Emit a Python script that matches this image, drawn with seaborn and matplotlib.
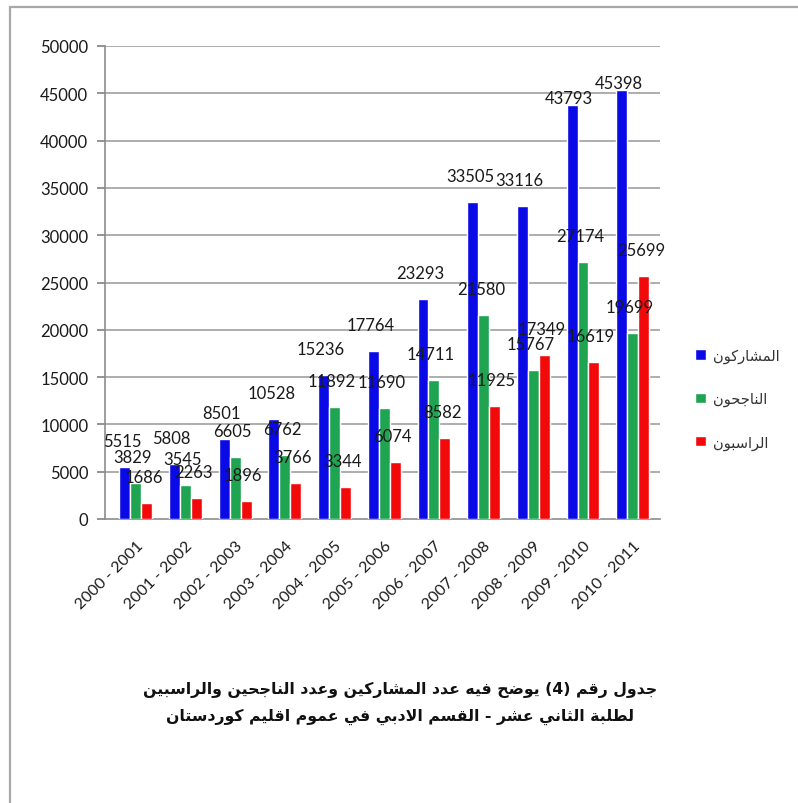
import re
import numpy as np
import pandas as pd
import matplotlib
matplotlib.use("Agg")
import matplotlib.pyplot as plt
from matplotlib.lines import Line2D
import seaborn as sns

# ---------------- data ----------------
years = ["2000 - 2001", "2001 - 2002", "2002 - 2003", "2003 - 2004", "2004 - 2005",
         "2005 - 2006", "2006 - 2007", "2007 - 2008", "2008 - 2009", "2009 - 2010",
         "2010 - 2011"]
participants = [5515, 5808, 8501, 10528, 15236, 17764, 23293, 33505, 33116, 43793, 45398]
passed = [3829, 3545, 6605, 6762, 11892, 11690, 14711, 21580, 15767, 27174, 19699]
failed = [1686, 2263, 1896, 3766, 3344, 6074, 8582, 11925, 17349, 16619, 25699]
series_names = ["المشاركون", "الناجحون", "الراسبون"]
title_lines = ["جدول رقم (4) يوضح فيه عدد المشاركين وعدد الناجحين والراسبين",
               "لطلبة الثاني عشر - القسم الادبي في عموم اقليم كوردستان"]
y_ticks = [0, 5000, 10000, 15000, 20000, 25000, 30000, 35000, 40000, 45000, 50000]

# ---------------- simple Arabic shaping (presentation forms + RTL order) ----------------
DUAL = {'ب': 0xFE8F, 'ت': 0xFE95, 'ث': 0xFE99, 'ج': 0xFE9D, 'ح': 0xFEA1, 'خ': 0xFEA5,
        'س': 0xFEB1, 'ش': 0xFEB5, 'ص': 0xFEB9, 'ض': 0xFEBD, 'ط': 0xFEC1, 'ظ': 0xFEC5,
        'ع': 0xFEC9, 'غ': 0xFECD, 'ف': 0xFED1, 'ق': 0xFED5, 'ك': 0xFED9, 'ل': 0xFEDD,
        'م': 0xFEE1, 'ن': 0xFEE5, 'ه': 0xFEE9, 'ي': 0xFEF1}
RIGHT = {'ا': 0xFE8D, 'ة': 0xFE93, 'د': 0xFEA9, 'ذ': 0xFEAB, 'ر': 0xFEAD, 'ز': 0xFEAF,
         'و': 0xFEED, 'ى': 0xFEEF}


def shape(text):
    toks = []
    i = 0
    while i < len(text):
        if text[i] == 'ل' and i + 1 < len(text) and text[i + 1] == 'ا':
            toks.append('LA')
            i += 2
        else:
            toks.append(text[i])
            i += 1

    def is_ar(t):
        return t in DUAL or t in RIGHT or t == 'LA'

    res = []
    for k, t in enumerate(toks):
        if not is_ar(t):
            res.append(t)
            continue
        prev = toks[k - 1] if k > 0 else None
        nxt = toks[k + 1] if k + 1 < len(toks) else None
        cp = prev in DUAL
        if t == 'LA':
            res.append(chr(0xFEFC if cp else 0xFEFB))
        elif t in RIGHT:
            res.append(chr(RIGHT[t] + (1 if cp else 0)))
        else:
            cn = nxt is not None and is_ar(nxt)
            idx = 3 if (cp and cn) else 1 if cp else 2 if cn else 0
            res.append(chr(DUAL[t] + idx))
    s = ''.join(res)[::-1]
    s = re.sub(r'[0-9]+', lambda m: m.group(0)[::-1], s)
    s = s.translate(str.maketrans('()', ')('))
    return s


# ---------------- figure ----------------
sns.set_theme(style="white")
plt.rcParams['font.family'] = ['Lato', 'DejaVu Sans']

W, H = 798, 804
fig = plt.figure(figsize=(W / 100, H / 100), dpi=100)
ax = fig.add_axes([105 / W, 1 - 520 / H, 555 / W, 473 / H])

names = [shape(n) for n in series_names]
df = pd.DataFrame({
    "year": years * 3,
    "series": [names[0]] * len(years) + [names[1]] * len(years) + [names[2]] * len(years),
    "value": participants + passed + failed,
})
palette = {names[0]: "#0a0ae6", names[1]: "#1fa451", names[2]: "#f20a0a"}

for v in y_ticks[1:]:
    ax.axhline(v, color="#a0a0a0", lw=1.2, zorder=0)

sns.barplot(data=df, x="year", y="value", hue="series", palette=palette,
            order=years, hue_order=names, width=0.66, gap=0,
            saturation=1, ax=ax, zorder=3, legend=True)

# data labels
for cont in ax.containers:
    for bar in cont:
        v = bar.get_height()
        x = bar.get_x() + bar.get_width() / 2
        off = 18.7 if v + 2750 <= 46000 else 5
        ax.annotate(f"{int(round(v))}", (x, v), xytext=(-2, off), textcoords="offset points",
                    ha="center", va="center", fontsize=12, color="#1a1a1a", zorder=5)

ax.set_ylim(0, 50000)
ax.set_xlim(-0.62, 10.55)
ax.set_yticks(y_ticks)
ax.set_yticklabels([str(t) for t in y_ticks], fontsize=12, color="#1a1a1a")
ax.set_xlabel("")
ax.set_ylabel("")

ax.set_xticks(range(len(years)))
ax.set_xticklabels(years, rotation=45, ha="right", rotation_mode="anchor",
                   fontsize=11.5, color="#1a1a1a")
ax.tick_params(axis="x", which="major", length=0, pad=14)
ax.set_xticks(np.linspace(-0.62, 10.55, 12), minor=True)
ax.tick_params(axis="x", which="minor", length=6, color="#808080", width=1.2, direction="out")
ax.tick_params(axis="y", which="major", length=6, color="#808080", width=1.2,
               direction="out", left=True, pad=6)

for s in ["top", "right"]:
    ax.spines[s].set_visible(False)
for s in ["left", "bottom"]:
    ax.spines[s].set_color("#8c8c8c")
    ax.spines[s].set_linewidth(1.2)

leg = ax.legend(loc="center left", bbox_to_anchor=(688 / W, 1 - 400 / H),
                bbox_transform=fig.transFigure, frameon=False, fontsize=10.5,
                handlelength=0.7, handleheight=0.7, handletextpad=0.5,
                labelspacing=2.0, borderpad=0)
for t in leg.get_texts():
    t.set_color("#333333")

# title
fig.text(400 / W, 1 - 690 / H, shape(title_lines[0]), ha="center", va="center",
         fontsize=11.3, fontweight="bold", color="#111111", family=["DejaVu Sans"])
fig.text(400 / W, 1 - 717 / H, shape(title_lines[1]), ha="center", va="center",
         fontsize=11.3, fontweight="bold", color="#111111", family=["DejaVu Sans"])

# outer frame
fig.add_artist(Line2D([10 / W, 10 / W], [0, 1 - 8 / H], color="#a8a8a8", lw=1.6,
                      transform=fig.transFigure))
fig.add_artist(Line2D([10 / W, 1], [1 - 8 / H, 1 - 8 / H], color="#a8a8a8", lw=1.6,
                      transform=fig.transFigure))

fig.savefig("out.png", dpi=100)
